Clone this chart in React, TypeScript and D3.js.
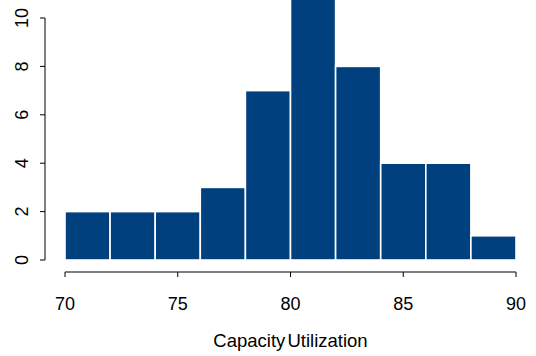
import React, { useEffect, useRef } from "react";
import * as d3 from "d3";

// histogram bins (lower edge) and counts
const binStarts = [70, 72, 74, 76, 78, 80, 82, 84, 86, 88];
const binWidth = 2;
const counts = [2, 2, 2, 3, 7, 11, 8, 4, 4, 1];
const xTicks = [70, 75, 80, 85, 90];
const yTicks = [0, 2, 4, 6, 8, 10];

const W = 536;
const H = 356;

const App = () => {
  const ref = useRef<SVGSVGElement>(null);

  useEffect(() => {
    const svg = d3.select(ref.current);
    svg.selectAll("*").remove();

    const x = d3.scaleLinear().domain([70, 90]).range([65, 516]);
    const y = d3.scaleLinear().domain([0, 10]).range([260, 18]);
    const font = "Liberation Sans, Arial, sans-serif";

    // bars
    svg
      .append("g")
      .selectAll("rect")
      .data(binStarts)
      .enter()
      .append("rect")
      .attr("x", (d) => x(d))
      .attr("width", (d) => x(d + binWidth) - x(d))
      .attr("y", (d, i) => y(counts[i]))
      .attr("height", (d, i) => y(0) - y(counts[i]))
      .attr("fill", "#00407F")
      .attr("stroke", "white")
      .attr("stroke-width", 1.6);

    // y axis
    const gy = svg.append("g").attr("transform", "translate(45,0)");
    gy.append("line")
      .attr("y1", y(0))
      .attr("y2", y(10))
      .attr("stroke", "black");
    gy.selectAll("line.tick")
      .data(yTicks)
      .enter()
      .append("line")
      .attr("class", "tick")
      .attr("x1", 0)
      .attr("x2", -5)
      .attr("y1", (d) => y(d))
      .attr("y2", (d) => y(d))
      .attr("stroke", "black");
    gy.selectAll("text")
      .data(yTicks)
      .enter()
      .append("text")
      .attr("transform", (d) => `translate(-17,${y(d)}) rotate(-90)`)
      .attr("text-anchor", "middle")
      .attr("font-family", font)
      .attr("font-size", 18)
      .text((d) => d);

    // x axis
    const gx = svg.append("g").attr("transform", "translate(0,272)");
    gx.append("line")
      .attr("x1", x(70))
      .attr("x2", x(90))
      .attr("stroke", "black");
    gx.selectAll("line.tick")
      .data(xTicks)
      .enter()
      .append("line")
      .attr("class", "tick")
      .attr("x1", (d) => x(d))
      .attr("x2", (d) => x(d))
      .attr("y1", 0)
      .attr("y2", 5)
      .attr("stroke", "black");
    gx.selectAll("text")
      .data(xTicks)
      .enter()
      .append("text")
      .attr("x", (d) => x(d))
      .attr("y", 37.5)
      .attr("text-anchor", "middle")
      .attr("font-family", font)
      .attr("font-size", 18)
      .text((d) => d);

    svg
      .append("text")
      .attr("x", x(80))
      .attr("y", 347)
      .attr("text-anchor", "middle")
      .attr("font-family", font)
      .attr("font-size", 18.5)
      .attr("word-spacing", -3)
      .text("Capacity Utilization");
  }, []);

  return (
    <svg
      ref={ref}
      width={W}
      height={H}
      style={{ position: "absolute", left: 0, top: 0, background: "white" }}
    />
  );
};

export default App;
